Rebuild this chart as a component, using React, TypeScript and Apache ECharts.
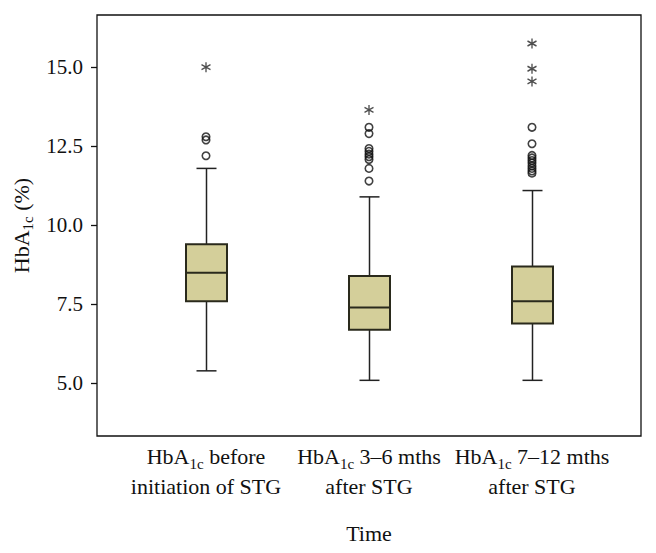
import React, { useEffect, useRef } from "react";
import * as echarts from "echarts";

// ---- data ----
const categories = [
  "HbA1c before\ninitiation of STG",
  "HbA1c 3–6 mths\nafter STG",
  "HbA1c 7–12 mths\nafter STG",
];
const whiskerLow = [5.4, 5.1, 5.1];
const q1 = [7.6, 6.7, 6.9];
const median = [8.5, 7.4, 7.6];
const q3 = [9.4, 8.4, 8.7];
const whiskerHigh = [11.8, 10.9, 11.1];
// mild outliers (circles): [categoryIndex, value]
const circleOutliers: [number, number][] = [
  [0, 12.2], [0, 12.7], [0, 12.8],
  [1, 11.4], [1, 11.8], [1, 12.08], [1, 12.17], [1, 12.25], [1, 12.34], [1, 12.43], [1, 12.9], [1, 13.1],
  [2, 11.65], [2, 11.72], [2, 11.8], [2, 11.88], [2, 11.97], [2, 12.05], [2, 12.13], [2, 12.21], [2, 12.58], [2, 13.1],
];
// extreme outliers (asterisks)
const extremeOutliers: [number, number][] = [
  [0, 15.0], [1, 13.65], [2, 14.55], [2, 14.95], [2, 15.75],
];
const yTicks = [5.0, 7.5, 10.0, 12.5, 15.0];
const yMin = 3.34;
const yMax = 16.65;
const yAxisTitle = "HbA1c (%)";
const xAxisTitle = "Time";

const FONT = "'Liberation Serif', 'DejaVu Serif', serif";

function toRich(text: string): string {
  return text
    .split("\n")
    .map((line) => {
      if (line.startsWith("HbA1c")) {
        return `{m|HbA}{s|1c}{m|${line.slice(5)}}`;
      }
      return `{m|${line}}`;
    })
    .join("\n");
}

const ASTERISK = "path://M0,-10L0,10M-8.66,-5L8.66,5M-8.66,5L8.66,-5";

export default function App() {
  const ref = useRef<HTMLDivElement>(null);
  useEffect(() => {
    if (!ref.current) return;
    const chart = echarts.init(ref.current, undefined, { renderer: "svg" });
    const boxData = categories.map((_, i) => [i, whiskerLow[i], q1[i], median[i], q3[i], whiskerHigh[i]]);
    const gridTop = 15;
    const gridH = 421;
    chart.setOption({
      animation: false,
      backgroundColor: "#ffffff",
      textStyle: { fontFamily: FONT },
      grid: [
        { left: 97, top: gridTop, width: 544, height: gridH, show: true, borderColor: "#111", borderWidth: 1.3, backgroundColor: "transparent" },
        { left: 124.5, top: gridTop, width: 489, height: gridH, show: false },
      ],
      xAxis: [
        { type: "value", gridIndex: 0, show: false, min: 0, max: 1 },
        {
          type: "category",
          gridIndex: 1,
          data: categories,
          boundaryGap: true,
          axisLine: { show: false },
          axisTick: { show: false },
          axisLabel: {
            margin: 5,
            interval: 0,
            formatter: (v: string) => toRich(v),
            rich: {
              m: { fontFamily: FONT, fontSize: 22, lineHeight: 30, color: "#111", verticalAlign: "middle" },
              s: { fontFamily: FONT, fontSize: 15, color: "#111", verticalAlign: "bottom" },
            },
          },
          name: xAxisTitle,
          nameLocation: "middle",
          nameGap: 85,
          nameTextStyle: { fontFamily: FONT, fontSize: 22, color: "#111", lineHeight: 24 },
        },
      ],
      yAxis: [
        {
          type: "value",
          gridIndex: 0,
          min: yMin,
          max: yMax,
          splitLine: { show: false },
          axisLine: { show: false },
          axisTick: { show: true, inside: false, length: 6, customValues: yTicks, lineStyle: { color: "#111", width: 1.3 } },
          axisLabel: {
            customValues: yTicks,
            margin: 14,
            formatter: (v: number) => v.toFixed(1),
            fontFamily: FONT,
            fontSize: 21,
            color: "#111",
          },
          name: toRich(yAxisTitle),
          nameLocation: "middle",
          nameGap: 57,
          nameRotate: 90,
          nameTextStyle: {
            rich: {
              m: { fontFamily: FONT, fontSize: 22, lineHeight: 28, color: "#111", verticalAlign: "middle" },
              s: { fontFamily: FONT, fontSize: 15, color: "#111", verticalAlign: "bottom" },
            },
          },
        },
        { type: "value", gridIndex: 1, min: yMin, max: yMax, show: false },
      ],
      series: [
        {
          type: "custom",
          xAxisIndex: 1,
          yAxisIndex: 1,
          data: boxData,
          encode: { x: 0, y: [1, 2, 3, 4, 5] },
          renderItem: (params: any, api: any) => {
            const i = api.value(0);
            const pLow = api.coord([i, api.value(1)]);
            const pQ1 = api.coord([i, api.value(2)]);
            const pMed = api.coord([i, api.value(3)]);
            const pQ3 = api.coord([i, api.value(4)]);
            const pHigh = api.coord([i, api.value(5)]);
            const x = Math.round(pLow[0]) + 0.5;
            const bw = 41;
            const cw = 20;
            const lineStyle = { stroke: "#222", lineWidth: 1.5 };
            return {
              type: "group",
              children: [
                { type: "line", shape: { x1: x, y1: pHigh[1], x2: x, y2: pQ3[1] }, style: lineStyle },
                { type: "line", shape: { x1: x, y1: pQ1[1], x2: x, y2: pLow[1] }, style: lineStyle },
                { type: "line", shape: { x1: x - cw / 2, y1: pHigh[1], x2: x + cw / 2, y2: pHigh[1] }, style: lineStyle },
                { type: "line", shape: { x1: x - cw / 2, y1: pLow[1], x2: x + cw / 2, y2: pLow[1] }, style: lineStyle },
                {
                  type: "rect",
                  shape: { x: x - bw / 2, y: pQ3[1], width: bw, height: pQ1[1] - pQ3[1] },
                  style: { fill: "#d4cf9a", stroke: "#2a2a1c", lineWidth: 2 },
                },
                { type: "line", shape: { x1: x - bw / 2, y1: pMed[1], x2: x + bw / 2, y2: pMed[1] }, style: { stroke: "#2a2a1c", lineWidth: 2 } },
              ],
            };
          },
        },
        {
          type: "scatter",
          xAxisIndex: 1,
          yAxisIndex: 1,
          data: circleOutliers,
          symbol: "circle",
          symbolSize: 7.5,
          itemStyle: { color: "rgba(0,0,0,0)", borderColor: "#111", borderWidth: 1.6 },
        },
        {
          type: "scatter",
          xAxisIndex: 1,
          yAxisIndex: 1,
          data: extremeOutliers,
          symbol: ASTERISK,
          symbolSize: [9, 10],
          itemStyle: { color: "rgba(0,0,0,0)", borderColor: "#222", borderWidth: 1.4 },
        },
      ],
    });
    return () => chart.dispose();
  }, []);
  return (
    <div
      ref={ref}
      style={{ position: "fixed", left: 0, top: 0, width: 656, height: 553, background: "#fff" }}
    />
  );
}
